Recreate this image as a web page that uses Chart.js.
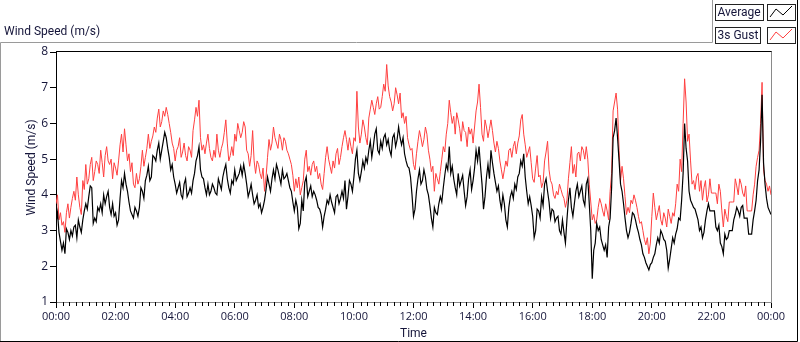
<!DOCTYPE html>
<html><head><meta charset="utf-8">
<script src="https://cdn.jsdelivr.net/npm/chart.js@4"></script>
<style>
html,body{margin:0;padding:0;background:#fff;}
#wrap{position:relative;width:800px;height:342px;}
canvas{position:absolute;left:0;top:0;}
</style></head><body>
<div id="wrap"><canvas id="c" width="800" height="342"></canvas></div>
<script>
// ---- data: samples on the 6-minute grid (00:00 .. 24:00) plus the in-between 3-minute readings ----
const sampleStepMin = 6;
const xTickLabels = ["00:00","02:00","04:00","06:00","08:00","10:00","12:00","14:00","16:00","18:00","20:00","22:00","00:00"];
const yTickValues = [1,2,3,4,5,6,7,8];
const seriesNames = ["Average","3s Gust"];

const average = [
 3.2,2.95,2.45,2.35,2.95, 3.0,3.1,2.8,3.1,3.3, 3.75,3.95,4.2,3.35,3.65, 3.75,4.0,3.95,3.65,3.75,
 3.5,3.3,4.4,4.6,4.1, 3.55,3.35,3.55,3.65,4.1, 4.4,4.8,4.5,5.05,5.25, 5.0,5.5,5.6,5.05,4.85, 4.3,
 4.2,4.0,4.3,3.95,4.2, 4.4,4.95,5.35,4.5,4.2, 4.3,4.1,4.2,4.0,4.3, 4.5,4.85,4.2,4.4,4.7,
 4.5,4.8,4.85,4.3,4.1, 4.0,3.85,3.65,3.5,3.85, 4.5,4.1,4.7,4.85,4.5, 4.7,4.5,4.4,4.1,3.55,
 3.65,3.2,3.55,4.5,4.1, 3.95,4.0,3.65,3.45,3.4, 3.85,4.0,3.65,3.95,3.75, 4.1,4.4,3.95,4.3,4.5,
 5.25,4.4,4.95,5.05,5.25, 5.05,5.7,5.25,5.5,5.6, 5.4,5.25,5.6,5.35,5.9, 5.4,5.15,4.8,4.5,3.4, 4.1,
 4.7,4.4,4.5,4.0,3.35, 3.65,3.45,3.95,4.2,4.85, 5.35,4.8,4.2,4.6,4.4, 4.1,3.95,4.7,4.4,5.25,
 5.35,4.3,3.95,4.85,5.25, 4.6,4.1,3.85,4.0,3.3, 3.65,4.1,4.3,4.5,4.95, 5.15,4.1,3.95,3.4,3.0,
 3.55,3.95,4.3,4.1,3.35, 3.55,3.35,3.0,3.3,2.65, 3.85,3.65,3.75,4.3,4.1, 3.85,4.3,3.75,1.65,2.65,
 3.0,2.75,2.45,2.25,3.35, 5.6,6.15,4.95,4.1,3.35, 2.8,3.2,3.45,3.1,2.75, 2.35,2.1,1.9,2.1,2.35,
 2.8,3.0,2.75,2.45,2.2, 2.8,2.9,3.35,3.85,6.0, 4.95,3.85,3.65,3.45,3.0, 2.8,3.3,3.75,3.55,3.55,
 3.0,2.65,2.35,2.75,3.0, 3.0,3.45,3.55,3.65,3.35, 3.35,2.9,3.3,3.85,4.7, 6.8,4.3,3.65,3.45
];
const averageMid = [
 3.5,2.7,2.65,3.05,2.75, 2.85,3.15,3.3,2.95,3.55, 3.6,4.25,3.2,3.25,3.55, 3.5,3.75,4.1,3.45,3.4,
 3.15,3.9,4.2,4.3,3.8, 3.45,3.65,3.4,4.2,3.9, 4.55,4.4,5.1,4.95,5.45, 5.25,5.75,5.3,4.7,4.5,
 4.05,4.35,3.9,4.45,4.05, 4.05,4.6,5.1,4.7,4.45, 4.0,4.0,4.3,4.05,4.45, 4.15,4.7,4.45,4.05,4.3,
 4.4,4.6,4.55,4.6,3.95, 4.3,3.75,4.0,3.75,3.65, 4.15,4.3,4.45,4.45,4.7, 4.3,4.45,4.6,4.2,3.8,
 3.85,3.05,3.85,4.35,3.95, 4.25,4.1,3.85,3.6,3.1, 3.6,3.75,3.8,3.5,4.0, 3.9,3.9,3.6,4.4,4.1,
 5.0,4.6,4.65,4.75,4.9, 5.5,5.35,5.85,5.15,5.3, 5.7,5.55,5.1,5.7,5.55, 5.6,5.6,4.95,4.75,4.0,
 3.6,4.45,4.3,4.7,4.15, 3.7,3.1,3.5,3.75,3.8, 4.55,4.7,4.6,4.45,4.0, 4.25,4.55,3.7,4.45,4.15,
 4.75,4.95,4.8,3.6,4.5, 4.45,4.9,4.35,4.25,3.6, 3.75,3.1,3.95,3.9,4.15, 4.6,4.8,4.5,3.75,3.7,
 2.8,3.6,3.35,3.7,4.45, 3.8,3.6,3.25,3.4,2.9, 2.95,3.3,4.2,3.4,4.1, 3.95,4.25,3.7,4.45,3.0,
 2.45,3.2,3.1,2.6,2.6, 3.1,4.2,5.8,5.6,4.3, 3.75,3.0,2.95,3.5,3.3, 2.95,2.6,2.25,2.0,2.05,
 2.25,2.6,2.65,2.9,2.7, 1.95,2.5,2.65,3.05,3.3, 4.6,5.3,4.1,3.75,3.6, 3.3,3.1,2.95,3.55,3.55,
 3.55,3.1,3.15,2.55,2.9, 2.8,3.0,3.3,3.65,3.4, 3.7,3.35,2.9,2.9,3.55, 4.4,5.5,4.9,3.9,3.55
];
const gust3s = [
 3.75,3.3,3.15,2.95,3.75, 3.65,4.1,4.5,3.65,4.4, 4.85,4.45,5.05,4.65,4.85, 5.25,4.5,5.35,4.85,4.45,
 4.75,4.95,5.7,5.85,4.95, 4.65,4.3,4.6,4.45,5.25, 5.05,5.7,5.5,5.9,6.15, 5.9,6.35,6.45,6.0,5.45, 4.95,
 5.35,5.05,5.45,4.95,5.25, 5.8,6.45,6.65,5.25,5.15, 5.7,5.05,5.25,5.7,5.05, 5.45,6.1,4.95,5.35,5.7,
 6.0,5.6,6.05,5.25,4.8, 5.8,4.6,4.85,4.45,4.1, 5.05,5.25,5.9,5.45,5.7, 5.25,5.5,5.15,4.85,4.1,
 4.2,4.0,4.4,5.25,4.8, 4.85,4.65,4.45,4.3,4.6, 5.35,4.8,4.95,5.15,4.85, 5.35,5.8,5.25,5.35,5.6,
 6.9,5.45,6.1,5.6,6.15, 6.65,6.25,6.75,6.45,7.1, 7.65,6.75,6.35,7.0,6.55, 6.15,6.0,5.6,5.25,4.85, 5.15,
 5.8,5.35,5.9,5.25,4.65, 4.1,4.45,4.65,5.35,5.7, 6.65,6.0,5.7,6.1,5.5, 5.8,5.35,5.7,5.45,6.35,
 7.1,5.7,6.1,5.6,6.1, 5.45,5.5,4.95,4.45,4.95, 5.25,5.05,5.5,5.45,6.1, 5.7,5.05,5.35,4.45,4.75,
 4.5,4.2,4.95,5.5,4.4, 4.0,4.1,4.3,4.0,3.65, 4.45,5.35,4.85,5.15,4.95, 5.25,5.35,4.3,3.3,3.2,
 3.65,3.75,3.4,3.55,4.1, 6.35,6.85,5.25,4.8,3.95, 3.65,3.85,4.0,3.65,3.2, 3.0,2.6,2.35,3.4,3.65,
 3.5,3.3,3.5,3.1,3.4, 3.5,3.75,4.1,4.65,7.25, 5.5,4.95,4.4,4.5,4.1, 3.85,4.4,4.0,4.05,4.05,
 3.75,4.1,3.1,3.4,3.8, 3.8,4.45,4.0,4.3,3.95, 3.55,3.55,4.0,4.8,5.25, 7.15,4.4,4.1,4.0
];
const gust3sMid = [
 4.0,3.5,3.25,3.5,3.35, 3.9,3.85,4.0,3.45,4.15, 4.3,4.85,4.4,4.95,4.6, 4.9,5.1,4.95,5.0,4.9,
 4.55,5.4,5.2,5.4,5.15, 4.9,4.2,4.3,4.8,4.8, 5.3,5.3,5.65,5.75,6.4, 6.05,6.2,6.25,5.75,5.3,
 5.25,5.6,5.2,5.1,5.35, 5.05,6.1,6.2,5.6,5.4, 5.45,5.3,4.95,5.05,5.25, 5.3,5.75,5.45,5.1,5.1,
 5.5,5.8,5.75,5.9,5.15, 5.1,4.95,4.95,4.6,4.75, 4.5,5.55,5.45,5.6,5.3, 5.55,5.6,5.25,5.0,4.55,
 4.45,4.5,4.2,5.0,4.65, 4.55,4.95,4.8,4.6,4.15, 5.05,5.0,4.6,4.75,5.3, 5.05,5.6,5.55,5.6,5.15,
 5.5,5.9,5.7,5.9,5.4, 6.4,6.45,6.55,6.4,6.75, 6.9,7.05,6.6,6.55,6.8, 6.85,6.3,6.2,5.4,5.3,
 4.7,5.5,5.6,5.55,5.7, 5.0,4.8,4.6,4.3,5.0, 5.2,6.0,6.3,6.2,6.3, 5.85,6.05,5.75,5.9,5.85,
 5.9,6.6,6.45,5.5,5.9, 5.85,5.8,5.2,5.3,4.7, 4.7,4.8,5.3,5.35,5.15, 5.65,6.25,5.4,5.2,4.9,
 4.35,5.1,4.55,4.35,5.2, 4.7,4.3,3.9,4.0,4.15, 3.9,3.85,4.9,4.6,4.5, 5.2,5.35,5.0,5.0,3.8,
 3.45,3.3,3.9,3.55,3.75, 3.3,4.6,6.6,6.4,4.4, 4.45,3.45,3.5,3.75,3.85, 3.4,3.25,2.75,2.8,2.65,
 4.05,3.3,3.7,3.15,3.35, 3.6,3.2,3.4,4.3,5.0, 6.0,6.6,5.7,4.3,4.15, 4.6,4.4,4.2,3.8,4.45,
 4.05,4.05,4.3,3.55,3.6, 3.25,3.8,3.8,4.25,4.45, 4.05,4.25,3.55,3.55,4.3, 5.05,6.0,4.7,4.3,4.25
];
// ---- end data ----

const FONT = 'Roboto, "Open Sans", sans-serif';
const TICKFONT = '"Open Sans", Roboto, sans-serif';
const TXT = '#15153a';
function toPts(grid, mid) {
  const pts = [];
  grid.forEach((v, i) => {
    pts.push({x: i * sampleStepMin, y: v});
    if (i < mid.length) pts.push({x: i * sampleStepMin + sampleStepMin / 2, y: mid[i]});
  });
  return pts;
}

const framePlugin = {
  id: 'frame',
  afterDraw(chart) {
    const ctx = chart.ctx, ca = chart.chartArea;
    const xs = chart.scales.x;
    ctx.save();
    ctx.lineWidth = 1;
    ctx.strokeStyle = '#000';
    ctx.beginPath();
    for (let k = 0; k <= 108; k++) {
      if (k % 9 === 0) continue;
      const px = Math.round(xs.getPixelForValue(k * 1440 / 108)) + 0.5;
      ctx.moveTo(px, ca.bottom); ctx.lineTo(px, ca.bottom + 4);
    }
    ctx.stroke();
    ctx.strokeStyle = '#000';
    ctx.beginPath(); ctx.moveTo(ca.left, 51.5); ctx.lineTo(ca.right + 1, 51.5); ctx.stroke();
    ctx.strokeStyle = '#8a8a8a';
    ctx.beginPath(); ctx.moveTo(ca.right + 0.5, 51.5); ctx.lineTo(ca.right + 0.5, ca.bottom + 1); ctx.stroke();
    ctx.strokeStyle = '#9a9a9a';
    ctx.beginPath();
    ctx.moveTo(0.5, 341); ctx.lineTo(0.5, 42.5); ctx.lineTo(712.5, 42.5); ctx.lineTo(712.5, 0);
    ctx.stroke();
    ctx.strokeStyle = '#000';
    ctx.beginPath();
    ctx.moveTo(797.5, 0); ctx.lineTo(797.5, 341.5); ctx.lineTo(0, 341.5);
    ctx.stroke();
    ctx.fillStyle = TXT;
    ctx.font = '12px ' + FONT;
    ctx.textBaseline = 'middle';
    ctx.textAlign = 'left';
    ctx.fillText('Wind Speed (m/s)', 4, 32);
    ctx.textAlign = 'center';
    ctx.fillText('Time', (ca.left + ca.right) / 2, 334);
    ctx.save();
    ctx.translate(31.5, 167.5);
    ctx.rotate(-Math.PI / 2);
    ctx.fillText('Wind Speed (m/s)', 0, 0);
    ctx.restore();
    const items = [
      {name: seriesNames[0], y: 4, color: '#000'},
      {name: seriesNames[1], y: 27, color: '#ff4040'}
    ];
    items.forEach(it => {
      const w = Math.ceil(ctx.measureText(it.name).width) + 4;
      ctx.fillStyle = '#fff';
      ctx.fillRect(715, it.y, w, 17);
      ctx.strokeStyle = '#222';
      ctx.strokeRect(715.5, it.y + 0.5, w, 16);
      ctx.fillStyle = '#fff';
      ctx.fillRect(767, it.y, 29, 17);
      ctx.strokeRect(767.5, it.y + 0.5, 28, 16);
      ctx.fillStyle = TXT;
      ctx.textAlign = 'left';
      ctx.textBaseline = 'middle';
      ctx.fillText(it.name, 717.5, it.y + 9);
      ctx.strokeStyle = it.color;
      ctx.beginPath();
      ctx.moveTo(770, it.y + 13); ctx.lineTo(776, it.y + 5); ctx.lineTo(783, it.y + 11); ctx.lineTo(792, it.y + 2);
      ctx.stroke();
    });
    ctx.restore();
  }
};

new Chart(document.getElementById('c'), {
  type: 'line',
  data: {
    datasets: [
      {label: seriesNames[0], data: toPts(average, averageMid), borderColor: '#000', borderWidth: 1.2, pointRadius: 0, tension: 0, fill: false},
      {label: seriesNames[1], data: toPts(gust3s, gust3sMid), borderColor: '#ff3f3f', borderWidth: 1, pointRadius: 0, tension: 0, fill: false}
    ]
  },
  options: {
    responsive: false,
    animation: false,
    events: [],
    layout: {padding: {top: 52, right: 29, left: 0, bottom: 0}},
    plugins: {legend: {display: false}, tooltip: {enabled: false}, title: {display: false}},
    scales: {
      x: {
        type: 'linear', min: 0, max: 1440,
        afterBuildTicks: s => { s.ticks = xTickLabels.map((l, i) => ({value: i * 120})); },
        ticks: {callback: (v, i) => xTickLabels[i], maxRotation: 0, autoSkip: false, font: {family: TICKFONT, size: 11}, color: TXT, padding: 2},
        grid: {drawOnChartArea: false, drawTicks: true, tickLength: 6, color: '#000'},
        border: {color: '#8a8a8a'},
        afterFit: s => { s.height = 40; }
      },
      y: {
        type: 'linear', min: 1, max: 8,
        afterBuildTicks: s => { s.ticks = yTickValues.map(v => ({value: v})); },
        ticks: {font: {family: TICKFONT, size: 12}, color: TXT, padding: 2},
        grid: {drawOnChartArea: false, drawTicks: true, tickLength: 6, color: '#000'},
        border: {color: '#000'},
        afterFit: s => { s.width = 56; }
      }
    }
  },
  plugins: [framePlugin]
});
</script>
</body></html>
